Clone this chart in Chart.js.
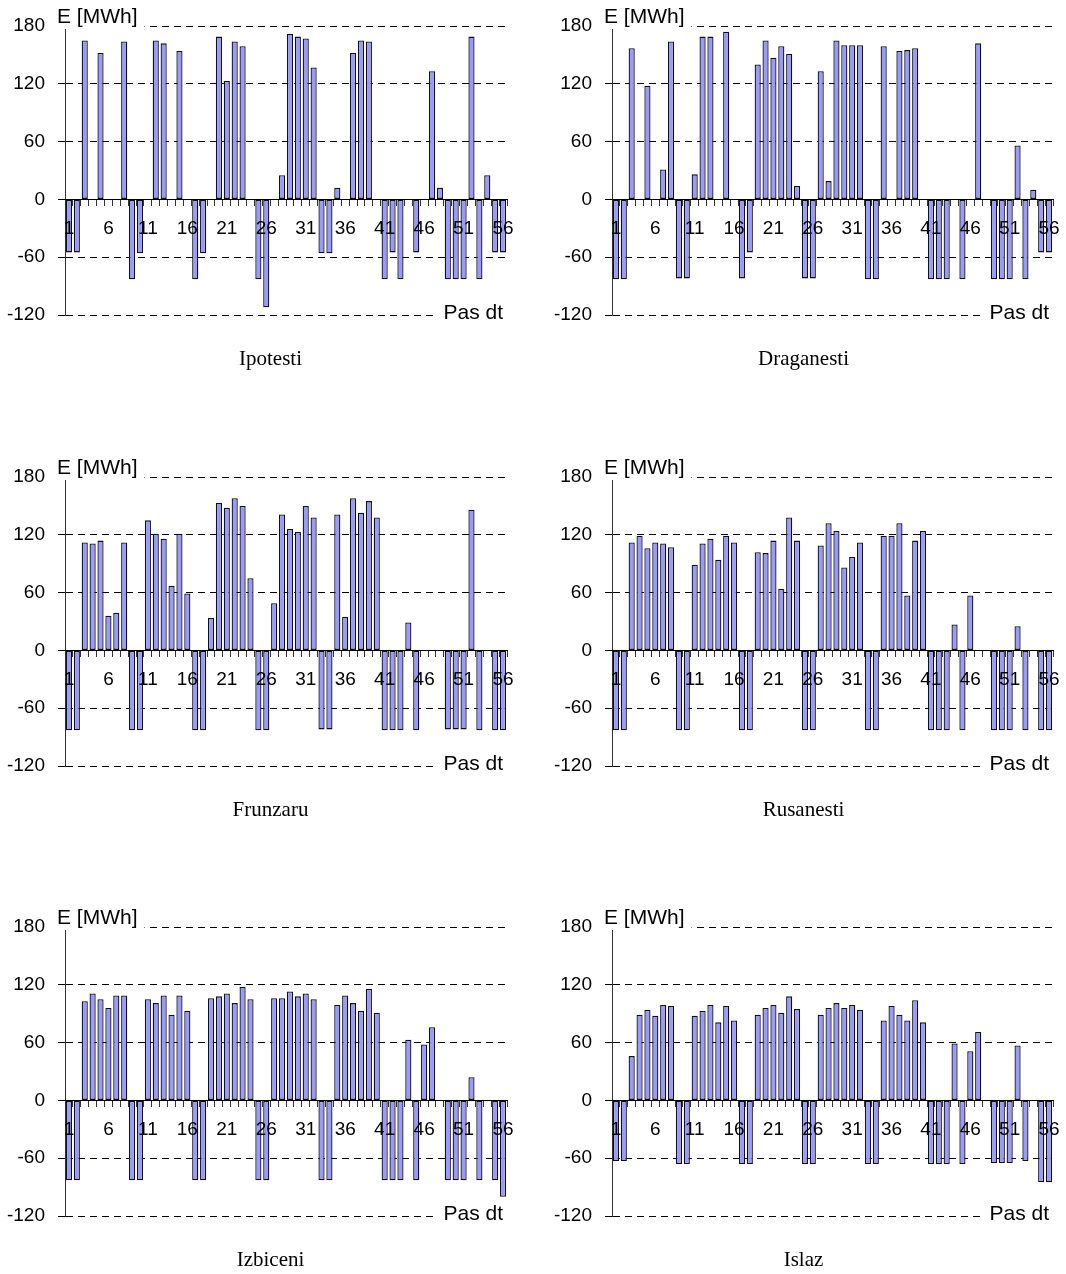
<!DOCTYPE html>
<html>
<head>
<meta charset="utf-8">
<script src="https://cdn.jsdelivr.net/npm/chart.js@4.4.0/dist/chart.umd.min.js"></script>
<style>
  body { margin: 0; background: #fff; }
  #page { position: relative; width: 1066px; height: 1274px; overflow: hidden; }
  #page canvas { position: absolute; }
  .title {
    position: absolute; width: 533px; text-align: center;
    font-family: "Liberation Serif", "Times New Roman", serif;
    font-size: 21px; color: #000; line-height: 24px;
  }
</style>
</head>
<body>
<div id="page"></div>
<script>
// time steps (categories)
const steps = ["1","2","3","4","5","6","7","8","9","10","11","12","13","14","15","16","17","18","19","20",
  "21","22","23","24","25","26","27","28","29","30","31","32","33","34","35","36","37","38","39","40",
  "41","42","43","44","45","46","47","48","49","50","51","52","53","54","55","56"];
const shownSteps = ["1","6","11","16","21","26","31","36","41","46","51","56"];
const yTicks = [-120, -60, 0, 60, 120, 180];
const yUnit = "E [MWh]";
const xUnit = "Pas dt";

const ipotesti = [-55,-55,165,0,152,0,0,164,-83,-56,0,165,162,0,154,0,-83,-56,0,169,123,164,159,0,-83,-112,0,25,
  172,169,167,137,-56,-56,12,0,152,165,164,0,-83,-55,-83,0,-55,0,133,12,-83,-83,-83,169,-83,25,-55,-55];
const draganesti = [-83,-83,157,0,118,0,31,164,-82,-82,26,169,169,0,174,0,-82,-55,140,165,147,159,151,14,-82,-82,
  133,19,165,160,160,160,-83,-83,159,0,154,155,157,0,-83,-83,-83,0,-83,0,162,0,-83,-83,-83,56,-83,10,-55,-55];
const frunzaru = [-83,-83,112,111,114,36,39,112,-83,-83,135,121,116,67,121,59,-83,-83,34,153,148,158,150,75,-83,-83,
  49,141,126,123,150,138,-82,-82,141,35,158,143,155,138,-83,-83,-83,29,-83,0,0,0,-82,-82,-82,146,-83,0,-83,-83];
const rusanesti = [-83,-83,112,119,106,112,111,107,-83,-83,89,111,116,94,119,112,-83,-83,102,101,114,64,138,114,-83,-83,
  109,132,124,86,97,112,-83,-83,119,119,132,57,114,124,-83,-83,-83,27,-83,57,0,0,-83,-83,-83,25,-83,0,-83,-83];
const izbiceni = [-83,-83,103,111,105,96,109,109,-83,-83,105,101,109,89,109,93,-83,-83,106,108,111,101,118,105,-83,-83,
  106,106,113,108,111,105,-83,-83,99,109,101,93,116,91,-83,-83,-83,63,-83,58,76,0,-83,-83,-83,24,-83,0,-83,-100];
const islaz = [-63,-63,46,89,94,88,99,98,-66,-66,88,93,99,81,98,83,-66,-66,89,96,99,91,108,95,-66,-66,
  89,96,101,96,99,94,-66,-66,83,98,89,83,104,81,-66,-66,-66,59,-66,51,71,0,-65,-65,-65,57,-63,0,-85,-85];

const stations = ["Ipotesti", "Draganesti", "Frunzaru", "Rusanesti", "Izbiceni", "Islaz"];
const series = [ipotesti, draganesti, frunzaru, rusanesti, izbiceni, islaz];

const axisFont = { family: '"Liberation Sans", Arial, sans-serif', size: 19 };

// unit labels sitting on the top and bottom grid lines
const axisNotes = {
  id: "axisNotes",
  afterDraw(chart) {
    const { ctx, chartArea: a } = chart;
    ctx.save();
    ctx.font = '21px "Liberation Sans", Arial, sans-serif';
    ctx.textBaseline = "alphabetic";

    let w = ctx.measureText(yUnit).width;
    ctx.fillStyle = "#fff";
    ctx.fillRect(a.left - 9, a.top - 22, w + 8, 25);
    ctx.fillStyle = "#000";
    ctx.textAlign = "left";
    ctx.fillText(yUnit, a.left - 8, a.top - 3);

    w = ctx.measureText(xUnit).width;
    ctx.fillStyle = "#fff";
    ctx.fillRect(a.right - w - 10, a.bottom - 14, w + 12, 20);
    ctx.fillStyle = "#000";
    ctx.textAlign = "right";
    ctx.fillText(xUnit, a.right - 4, a.bottom + 4);
    ctx.restore();
  }
};

function buildChart(canvas, values, col) {
  return new Chart(canvas, {
    type: "bar",
    data: {
      labels: steps,
      datasets: [{
        data: values,
        backgroundColor: "#9999ff",
        borderColor: "#111",
        borderWidth: 1.3,
        borderSkipped: false,
        barPercentage: 0.95,
        categoryPercentage: 0.82
      }]
    },
    options: {
      responsive: false,
      animation: false,
      events: [],
      layout: { padding: { left: 0, right: col ? 13 : 26, top: 26, bottom: 136 } },
      plugins: { legend: { display: false }, tooltip: { enabled: false } },
      scales: {
        x: {
          type: "category",
          position: { y: 0 },
          // keep the "56" label from shrinking the plot
          afterFit: (s) => { s.paddingLeft = 0; s.paddingRight = 0; },
          grid: { z: 1, drawOnChartArea: false, drawTicks: true, tickLength: 6, tickColor: "#333", offset: true },
          border: { z: 1, display: true, color: "#000", width: 1 },
          ticks: {
            z: 1, autoSkip: false, maxRotation: 0, padding: 12, color: "#000", font: axisFont,
            callback: (v, i) => (shownSteps.includes(steps[i]) ? steps[i] : "")
          }
        },
        y: {
          min: -120,
          max: 180,
          afterBuildTicks: (s) => { s.ticks = yTicks.map((v) => ({ value: v })); },
          afterFit: (s) => { s.width = col ? 79 : 65; },
          grid: { color: "#000", tickLength: 7, tickColor: "#000" },
          border: { display: true, color: "#333", dash: [7, 5] },
          ticks: { padding: 13, color: "#000", font: axisFont }
        }
      }
    },
    plugins: [axisNotes]
  });
}

const page = document.getElementById("page");
const rowTops = [0, 451, 901];

stations.forEach((name, i) => {
  const col = i % 2;
  const row = Math.floor(i / 2);
  const canvas = document.createElement("canvas");
  canvas.width = 533;
  canvas.height = 451;
  canvas.style.left = col * 533 + "px";
  canvas.style.top = rowTops[row] + "px";
  page.appendChild(canvas);
  buildChart(canvas, series[i], col);

  const t = document.createElement("div");
  t.className = "title";
  t.textContent = name;
  t.style.left = col * 533 + 4 + "px";
  t.style.top = rowTops[row] + 346 + "px";
  page.appendChild(t);
});
</script>
</body>
</html>
